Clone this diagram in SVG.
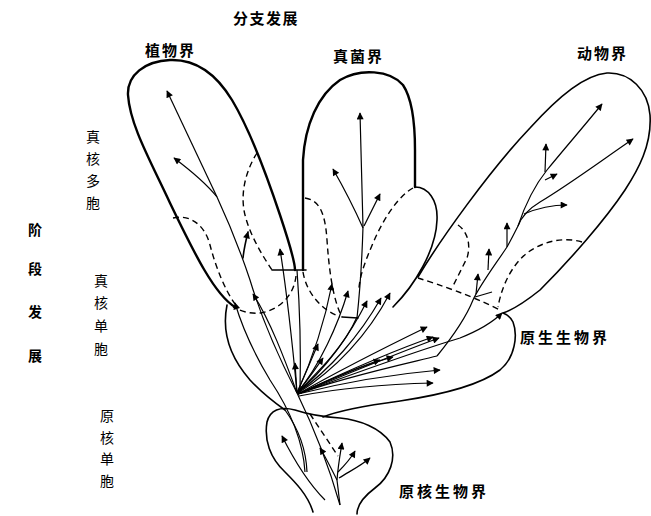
<svg xmlns="http://www.w3.org/2000/svg" width="651" height="516" viewBox="0 0 651 516">
<defs>
<marker id="ah" viewBox="0 0 10 10" refX="9" refY="5" markerWidth="9" markerHeight="7" markerUnits="userSpaceOnUse" orient="auto">
<path d="M0,0 L10,5 L0,10 z" fill="#000"/>
</marker>
<style>
.o{fill:none;stroke:#000;stroke-width:1.6;stroke-linecap:round;stroke-linejoin:round}
.ot{fill:none;stroke:#000;stroke-width:2.4;stroke-linecap:round;stroke-linejoin:round}
.d{fill:none;stroke:#000;stroke-width:1.4;stroke-dasharray:6,4}
.a{fill:none;stroke:#000;stroke-width:1.2;marker-end:url(#ah)}
.l{fill:none;stroke:#000;stroke-width:1.2}
.t{font-family:"Noto Sans CJK SC","Noto Sans CJK JP",sans-serif;font-size:15px;font-weight:700;fill:#000}
.s{font-family:"Noto Sans CJK SC","Noto Sans CJK JP",sans-serif;font-size:14px;fill:#000;text-anchor:middle}
</style>
</defs>
<rect width="651" height="516" fill="#fff"/>

<g id="labels">
<text class="t" x="233" y="24" letter-spacing="1.5">分支发展</text>
<text class="t" x="145" y="56" letter-spacing="2">植物界</text>
<text class="t" x="333" y="62" letter-spacing="2">真菌界</text>
<text class="t" x="577" y="59" letter-spacing="2">动物界</text>
<text class="t" x="520" y="343" letter-spacing="3">原生生物界</text>
<text class="t" x="399" y="497" letter-spacing="3">原核生物界</text>
<text class="s" x="93"><tspan x="93" y="142">真</tspan><tspan x="93" y="164">核</tspan><tspan x="93" y="186">多</tspan><tspan x="93" y="208">胞</tspan></text>
<text class="s" x="101"><tspan x="101" y="286">真</tspan><tspan x="101" y="308">核</tspan><tspan x="101" y="331">单</tspan><tspan x="101" y="354">胞</tspan></text>
<text class="s" x="107"><tspan x="107" y="421">原</tspan><tspan x="107" y="443">核</tspan><tspan x="107" y="464">单</tspan><tspan x="107" y="486">胞</tspan></text>
<text class="s" font-weight="700" x="35"><tspan x="35" y="235">阶</tspan><tspan x="35" y="274">段</tspan><tspan x="35" y="317">发</tspan><tspan x="35" y="361">展</tspan></text>
</g>

<g id="plant">
<path class="ot" d="M235,307 C215,295 195,255 170,203 C150,160 130,125 128,95 C127,75 145,61 170,60 C195,59 215,72 232,100 C250,130 265,170 280,215 C290,245 295,262 295,270"/>
<path class="o" d="M272,270 L306,270"/>
<path class="d" d="M257,153 C245,172 240,195 245,215 C250,235 262,255 272,270"/>
<path class="d" d="M296,276 C294,295 280,310 260,313 C250,314 240,311 233,307"/>
<path class="d" d="M173,218 C190,214 205,225 210,245 C216,268 225,290 235,304"/>
<path class="o" d="M243,258 C244,248 246,240 248,232" stroke-width="2.4" marker-end="url(#ah)"/>
<path class="a" d="M217,197 L167,91"/>
<path class="a" d="M217,197 C205,182 190,170 174,158"/>
</g>

<g id="fungi">
<path class="ot" d="M303,270 L303,160 C305,125 318,95 340,80 C360,68 390,70 403,85 C413,100 415,130 415,150 L415,187"/>
<path class="o" d="M415,187 C428,187 438,200 437,220 C436,250 415,285 393,307"/>
<path class="d" d="M305,198 C318,200 325,210 327,240 C329,270 333,300 342,317"/>
<path class="d" d="M303,272 C306,290 318,308 340,317"/>
<path class="o" d="M342,317 L358,318"/>
<path class="d" d="M413,188 C400,195 385,215 373,243 C365,262 360,275 359,288"/>
<path class="a" d="M357,318 C360,290 362,260 363,227 L360,113"/>
<path class="a" d="M363,228 C355,210 345,190 333,169"/>
<path class="a" d="M364,226 L380,194"/>
</g>

<g id="animal">
<path class="o" d="M418,277 C440,240 490,170 530,128 C560,95 585,75 607,73 C630,72 648,90 650,115 C652,145 638,170 625,190 C605,220 570,260 540,290 C525,302 512,310 503,313"/>
<path class="d" d="M418,278 C440,285 470,295 500,310"/>
<path class="d" d="M458,225 C468,232 471,245 467,258 L452,288"/>
<path class="d" d="M582,242 C565,237 545,240 527,253 C512,265 502,285 498,307"/>
<path class="l" d="M437,356 C450,340 465,320 473,300 C480,285 495,265 507,247 C512,238 515,232 518,226"/>
<path class="a" d="M518,226 C525,205 535,185 547,170 C565,148 585,125 602,104"/>
<path class="a" d="M518,226 C522,215 530,208 540,202 C570,184 605,158 633,139"/>
<path class="a" d="M545,172 L546,144"/>
<path class="a" d="M545,180 L557,174"/>
<path class="a" d="M524,214 C538,208 552,205 567,205"/>
<path class="a" d="M507,247 L507,223"/>
<path class="a" d="M488,270 L489,249"/>
<path class="a" d="M476,294 L478,274"/>
<path class="l" d="M475,297 L492,292"/>
</g>

<g id="protist">
<path class="o" d="M227,305 C222,330 228,355 250,380 C262,393 275,403 285,410"/>
<path class="o" d="M323,417 C340,410 370,405 400,401 C440,395 480,385 500,370 C515,358 518,335 513,322 C510,316 506,314 503,313"/>
</g>

<g id="prokaryote">
<path class="o" d="M313,512 C308,495 295,482 285,472 C270,458 264,440 267,422 C270,410 280,406 295,410 C310,415 325,417 340,418 C360,420 380,428 390,442 C397,458 390,477 375,488 C363,497 357,505 357,514"/>
<path class="d" d="M310,414 L338,456"/>
<path class="l" d="M340,505 L337,480"/>
<path class="a" d="M337,480 C330,466 325,456 320,448"/>
<path class="a" d="M337,480 C338,466 340,455 342,443"/>
<path class="a" d="M338,472 C345,465 351,458 355,451"/>
<path class="a" d="M339,478 C352,470 362,465 370,458"/>
<path class="a" d="M325,500 C310,485 295,462 282,436"/>
</g>

<g id="connectors">
<path class="l" d="M285,410 C298,428 306,448 307,472"/>
<path class="l" d="M217,197 C230,225 240,250 250,280 C262,320 280,360 297,393 C315,430 330,470 340,505"/>
<path class="a" d="M305,472 C303,440 290,410 270,380 C255,355 243,330 235,303"/>
<path class="a" d="M297,393 C285,360 270,320 253,294"/>
<path class="a" d="M297,393 C293,350 288,300 280,249"/>
<path class="l" d="M297,270 C300,310 301,350 300,392"/>
<path class="a" d="M297,393 L295,363"/>
<path class="a" d="M297,393 C305,375 312,358 318,344"/>
<path class="a" d="M297,393 C308,380 316,368 323,358"/>
<path class="a" d="M297,393 C312,360 325,320 332,284"/>
<path class="a" d="M297,393 C320,365 338,325 348,291"/>
<path class="l" d="M297,393 C320,370 345,345 357,317"/>
<path class="a" d="M297,393 C325,370 350,335 367,301"/>
<path class="a" d="M297,393 C330,370 360,335 381,298"/>
<path class="a" d="M298,393 C335,370 368,335 390,293"/>
<path class="a" d="M298,394 C340,370 390,345 427,327"/>
<path class="a" d="M298,394 C345,372 395,350 433,337"/>
<path class="a" d="M298,394 C345,375 400,352 439,338"/>
<path class="a" d="M298,394 C330,380 360,366 393,357"/>
<path class="a" d="M298,394 C325,382 350,370 380,360"/>
<path class="a" d="M298,394 C345,382 395,374 440,370"/>
<path class="a" d="M299,396 C340,388 390,384 433,383"/>
<path class="a" d="M298,394 C350,375 420,350 460,338 C480,330 495,320 502,313"/>
<path class="l" d="M298,394 C340,378 400,365 437,356"/>
</g>
</svg>
